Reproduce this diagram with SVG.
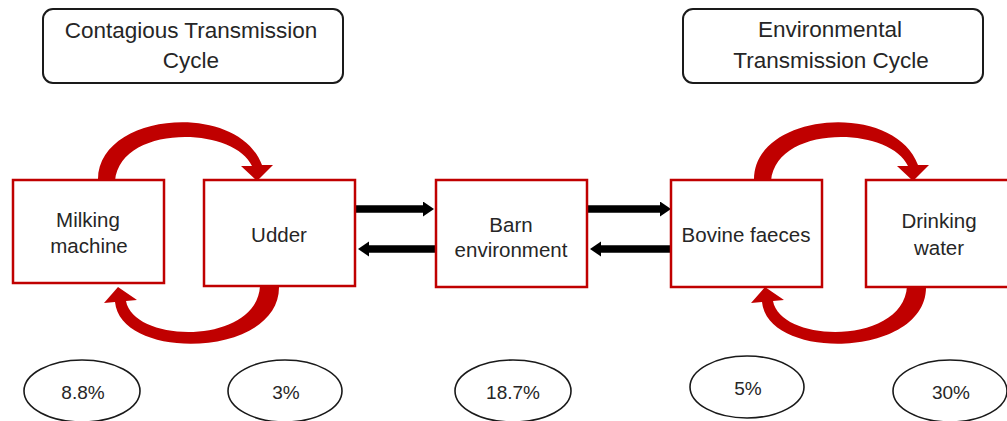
<svg xmlns="http://www.w3.org/2000/svg" width="1007" height="421" viewBox="0 0 1007 421">
  <defs>
    <style>
      .title-box { fill: #ffffff; stroke: #1a1a1a; stroke-width: 2; }
      .node-box { fill: #ffffff; stroke: #c00000; stroke-width: 2.5; }
      .pct { fill: #ffffff; stroke: #1a1a1a; stroke-width: 1.6; }
      .t { font-family: "Liberation Sans", Arial, sans-serif; fill: #262626; text-anchor: middle; }
      .tt { font-size: 22.5px; }
      .nt { font-size: 20.5px; }
      .pt { font-size: 19px; }
      .flow { stroke: #000000; stroke-width: 7.5; fill: none; marker-end: url(#blackhead); }
      .cyc { fill: #c00000; }
    </style>
    <marker id="blackhead" markerUnits="userSpaceOnUse" markerWidth="12" markerHeight="16" refX="1" refY="7.5" orient="auto" viewBox="0 0 12 16">
      <path d="M0,0 L11,7.5 L0,15 Z" fill="#000000"/>
    </marker>
    <path id="arcTop" d="M 98 181 C 96 112, 238 100, 262 165 L 273 165 L 257 181 L 241 166 L 252 166 C 234 126, 120 124, 115 181 Z"/>
    <path id="arcBottom" d="M 279 286 C 281 358, 121 362, 115 302 L 104 303 L 118 287 L 137 300 L 126 301 C 134 344, 257 345, 260 286 Z"/>
  </defs>

  <rect width="1007" height="421" fill="#ffffff"/>

  <g id="connectors">
    <use href="#arcTop" class="cyc"/>
    <use href="#arcBottom" class="cyc"/>
    <use href="#arcTop" class="cyc" transform="translate(656,0)"/>
    <use href="#arcBottom" class="cyc" transform="translate(647,0)"/>
    <line class="flow" x1="355" y1="209" x2="424" y2="209"/>
    <line class="flow" x1="436" y1="249" x2="368" y2="249"/>
    <line class="flow" x1="587" y1="209" x2="661" y2="209"/>
    <line class="flow" x1="671" y1="249" x2="600" y2="249"/>
  </g>

  <g id="title-contagious">
    <rect class="title-box" x="43" y="9" width="300" height="74" rx="10"/>
    <text class="t tt" x="191" y="38">Contagious Transmission</text>
    <text class="t tt" x="191" y="68">Cycle</text>
  </g>

  <g id="title-environmental">
    <rect class="title-box" x="683" y="9" width="300" height="74" rx="10"/>
    <text class="t tt" x="830" y="37">Environmental</text>
    <text class="t tt" x="831" y="68">Transmission Cycle</text>
  </g>

  <g id="node-milking-machine">
    <rect class="node-box" x="13" y="180" width="151" height="103"/>
    <text class="t nt" x="88" y="227">Milking</text>
    <text class="t nt" x="89" y="253">machine</text>
  </g>

  <g id="node-udder">
    <rect class="node-box" x="204" y="180" width="151" height="106"/>
    <text class="t nt" x="279" y="242">Udder</text>
  </g>

  <g id="node-barn-environment">
    <rect class="node-box" x="436" y="180" width="151" height="107"/>
    <text class="t nt" x="511" y="232">Barn</text>
    <text class="t nt" x="511" y="257">environment</text>
  </g>

  <g id="node-bovine-faeces">
    <rect class="node-box" x="671" y="180" width="151" height="107"/>
    <text class="t nt" x="746" y="242">Bovine faeces</text>
  </g>

  <g id="node-drinking-water">
    <rect class="node-box" x="866" y="180" width="151" height="107"/>
    <text class="t nt" x="939" y="228">Drinking</text>
    <text class="t nt" x="939" y="255">water</text>
  </g>

  <g id="pct-milking-machine">
    <ellipse class="pct" cx="82" cy="391" rx="58" ry="31"/>
    <text class="t pt" x="83" y="399">8.8%</text>
  </g>

  <g id="pct-udder">
    <ellipse class="pct" cx="285" cy="391" rx="57" ry="31"/>
    <text class="t pt" x="286" y="399">3%</text>
  </g>

  <g id="pct-barn-environment">
    <ellipse class="pct" cx="513" cy="391" rx="58" ry="31"/>
    <text class="t pt" x="513" y="399">18.7%</text>
  </g>

  <g id="pct-bovine-faeces">
    <ellipse class="pct" cx="747" cy="387" rx="57" ry="31"/>
    <text class="t pt" x="748" y="395">5%</text>
  </g>

  <g id="pct-drinking-water">
    <ellipse class="pct" cx="950" cy="391" rx="57" ry="31"/>
    <text class="t pt" x="951" y="399">30%</text>
  </g>
</svg>
